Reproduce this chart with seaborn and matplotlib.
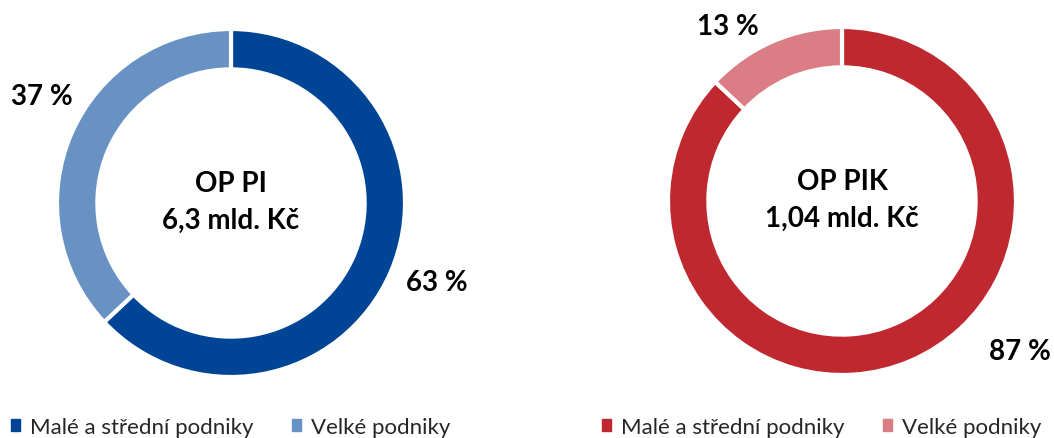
import matplotlib
matplotlib.use("Agg")
import matplotlib.pyplot as plt
import seaborn as sns
from matplotlib.patches import Patch

# data
categories = ["Malé a střední podniky", "Velké podniky"]
programmes = ["OP PI", "OP PIK"]
totals = ["6,3 mld. Kč", "1,04 mld. Kč"]
op_pi_shares = [63, 37]
op_pik_shares = [87, 13]

blues = sns.color_palette(["#004595", "#6892C4"])
reds = sns.color_palette(["#C0282F", "#DA7D84"])

sns.set_theme(style="white")
plt.rcParams["font.family"] = ["Lato", "DejaVu Sans"]

fig = plt.figure(figsize=(10.54, 4.39), dpi=100)
W, H = 1054, 439


def donut(box, shares, colors, name, total, label_pos, legend_x):
    x0, y0, size = box
    ax = fig.add_axes([x0 / W, (H - y0 - size) / H, size / W, size / H])
    ax.pie(shares, colors=colors, startangle=90, counterclock=False,
           radius=1, wedgeprops=dict(width=0.232, edgecolor="white", linewidth=3))
    ax.set_xlim(-1, 1)
    ax.set_ylim(-1, 1)
    ax.set_aspect("equal")
    ax.axis("off")
    ax.text(0, 0.01, f"{name}\n{total}", ha="center", va="center",
            fontsize=20, fontweight="bold", linespacing=1.5, color="black")
    # percentage labels, positions in figure pixels
    for val, (px, py) in zip(shares, label_pos):
        fig.text(px / W, 1 - py / H, f"{val} %", ha="center", va="center",
                 fontsize=20, fontweight="bold", color="black")
    handles = [Patch(color=c) for c in colors]
    fig.legend(handles, categories, loc="center left",
               bbox_to_anchor=(legend_x / W, 1 - 428 / H), ncol=2, frameon=False,
               fontsize=16, handlelength=0.4, handleheight=0.4,
               handletextpad=0.45, columnspacing=1.75, borderaxespad=0,
               borderpad=0)


donut((57, 30, 348), op_pi_shares, blues, programmes[0], totals[0],
      [(437, 283), (42, 97)], 11)
donut((668, 28, 348), op_pik_shares, reds, programmes[1], totals[1],
      [(1020, 352), (728, 27)], 602)

fig.savefig("out.png", dpi=100)
